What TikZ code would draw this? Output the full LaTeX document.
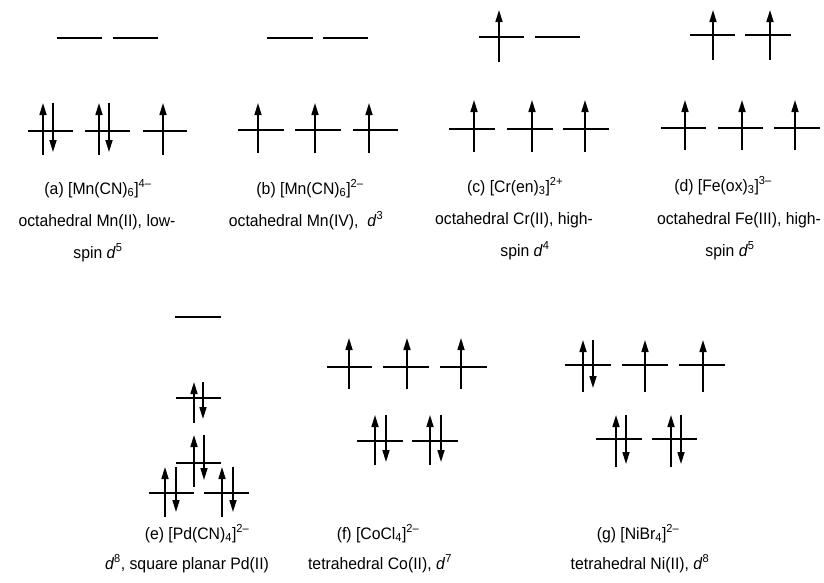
\documentclass[tikz,border=0pt]{standalone}
\usepackage{fontspec}
\setmainfont[FakeStretch=0.95]{Liberation Sans}
\usetikzlibrary{arrows.meta}
\tikzset{
  lvl/.style={line width=1.6pt},
  spin/.style={line width=1.6pt, -{Triangle[length=12pt,width=7pt]}},
  lbl/.style={font=\fontsize{16.6}{19}\selectfont, inner sep=0pt, anchor=base},
}
% an orbital level from x1 to x2 at height y
\newcommand\lev[3]{\draw[lvl] (#1,#3) -- (#2,#3);}
% spin-up / spin-down electron at x, spanning top..bottom
\newcommand\eup[3]{\draw[spin] (#1,#3) -- (#1,#2);}
\newcommand\edn[3]{\draw[spin] (#1,#2) -- (#1,#3);}
\newcommand\dd[1]{\textit{d}\textsuperscript{#1}}
\begin{document}
\begin{tikzpicture}[x=1pt,y=-1pt]
\useasboundingbox (0,0) rectangle (824,582);

% (a) low-spin Mn(II)
\lev{57}{102}{38} \lev{113}{158}{38}
\lev{28}{73}{131} \lev{85}{130}{131} \lev{143}{187}{131}
\eup{43}{103}{155} \edn{53}{103}{152}
\eup{99}{103}{155} \edn{109}{103}{152}
\eup{163}{103}{155}
\node[lbl] (a1) at (98,194) {(a) [Mn(CN)\textsubscript{6}]\textsuperscript{4–}};
\node[lbl] (a2) at (97,226) {octahedral Mn(II), low-};
\node[lbl] (a3) at (98,258) {spin \dd{5}};

% (b) Mn(IV)
\lev{267}{313}{38} \lev{323}{368}{38}
\lev{238}{284}{130} \lev{295}{341}{130} \lev{353}{398}{130}
\eup{258}{103}{153} \eup{315}{103}{153} \eup{369}{103}{153}
\node[lbl] (b1) at (310,194) {(b) [Mn(CN)\textsubscript{6}]\textsuperscript{2–}};
\node[lbl] (b2) at (306,226) {octahedral Mn(IV), \ \dd{3}};

% (c) high-spin Cr(II)
\lev{479}{524}{37} \lev{535}{580}{37}
\eup{499}{10}{62}
\lev{449}{495}{129} \lev{507}{553}{129} \lev{563}{609}{129}
\eup{474}{100}{152} \eup{532}{100}{152} \eup{585}{100}{152}
\node[lbl] (c1) at (515,192) {(c) [Cr(en)\textsubscript{3}]\textsuperscript{2+}};
\node[lbl] (c2) at (514,224) {octahedral Cr(II), high-};
\node[lbl] (c3) at (525,256) {spin \dd{4}};

% (d) high-spin Fe(III)
\lev{690}{735}{35} \lev{745}{791}{35}
\eup{713}{10}{60} \eup{770}{10}{60}
\lev{661}{706}{128} \lev{718}{763}{128} \lev{774}{820}{128}
\eup{685}{100}{150} \eup{742}{100}{150} \eup{795}{100}{150}
\node[lbl] (d1) at (723,191) {(d) [Fe(ox)\textsubscript{3}]\textsuperscript{3–}};
\node[lbl] (d2) at (739,224) {octahedral Fe(III), high-};
\node[lbl] (d3) at (730,256) {spin \dd{5}};

% (e) square planar Pd(II)
\lev{175}{221}{317}
\lev{176}{221}{398}
\eup{194}{382}{423} \edn{203}{382}{419}
\lev{176}{221}{463}
\eup{194}{435}{487} \edn{204}{435}{480}
\lev{149}{194}{493} \lev{204}{249}{493}
\eup{165}{467}{517} \edn{176}{467}{512}
\eup{222}{467}{517} \edn{233}{467}{512}
\node[lbl] (e1) at (197,539) {(e) [Pd(CN)\textsubscript{4}]\textsuperscript{2–}};
\node[lbl] (e2) at (187,569) {\dd{8}, square planar Pd(II)};

% (f) tetrahedral Co(II)
\lev{327}{372}{367} \lev{383}{429}{367} \lev{440}{487}{367}
\eup{349}{338}{389} \eup{407}{338}{389} \eup{461}{338}{389}
\lev{357}{403}{441} \lev{412}{458}{441}
\eup{375}{415}{465} \edn{386}{415}{462}
\eup{430}{415}{465} \edn{441}{415}{462}
\node[lbl] (f1) at (378,539) {(f) [CoCl\textsubscript{4}]\textsuperscript{2–}};
\node[lbl] (f2) at (380,569) {tetrahedral Co(II), \dd{7}};

% (g) tetrahedral Ni(II)
\lev{565}{611}{365} \lev{622}{668}{365} \lev{679}{725}{365}
\eup{583}{340}{392} \edn{593}{340}{388}
\eup{645}{340}{392} \eup{703}{340}{392}
\lev{596}{642}{439} \lev{652}{697}{439}
\eup{616}{415}{467} \edn{626}{415}{464}
\eup{671}{415}{467} \edn{681}{415}{464}
\node[lbl] (g1) at (638,539) {(g) [NiBr\textsubscript{4}]\textsuperscript{2–}};
\node[lbl] (g2) at (640,569) {tetrahedral Ni(II), \dd{8}};
\end{tikzpicture}
\end{document}
